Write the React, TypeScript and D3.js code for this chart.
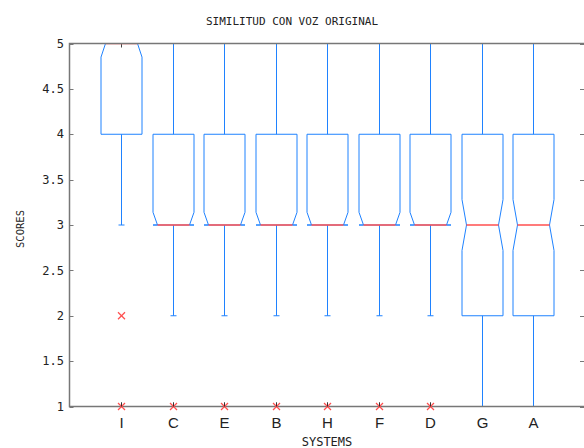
import React from 'react';
import * as d3 from 'd3';

const W = 584;
const H = 448;

const categories = ['I', 'C', 'E', 'B', 'H', 'F', 'D', 'G', 'A'];
const q1 = [4, 3, 3, 3, 3, 3, 3, 2, 2];
const medians = [5, 3, 3, 3, 3, 3, 3, 3, 3];
const q3 = [5, 4, 4, 4, 4, 4, 4, 4, 4];
const whiskLo = [3, 2, 2, 2, 2, 2, 2, 1, 1];
const whiskHi = [5, 5, 5, 5, 5, 5, 5, 5, 5];
const notchHalf = [0.15, 0.14, 0.14, 0.14, 0.14, 0.14, 0.14, 0.28, 0.28];
const outliers = [[2, 1], [1], [1], [1], [1], [1], [1], [], []];
const yTicks = [1, 1.5, 2, 2.5, 3, 3.5, 4, 4.5, 5];

const margin = { left: 69.5, top: 43.5, right: 585, bottom: 406.5 };

const BLUE = '#1f82ff';
const RED = '#ff4f4f';
const AXIS = '#777777';

export default function App() {
  const x = d3.scaleLinear().domain([0, 10]).range([margin.left, margin.right]);
  const y = d3.scaleLinear().domain([1, 5]).range([margin.bottom, margin.top]);
  const halfW = 20.5;
  const inset = 4.5;
  const cap = 3;

  const boxes = categories.map((c, i) => {
    const cx = Math.round(x(i + 1)) + 0.5;
    const L = cx - halfW;
    const R = cx + halfW;
    const nLo = Math.max(medians[i] - notchHalf[i], q1[i]);
    const nHi = Math.min(medians[i] + notchHalf[i], q3[i]);
    const pts: [number, number][] = [
      [L, y(q1[i])], [L, y(nLo)], [L + inset, y(medians[i])], [L, y(nHi)], [L, y(q3[i])],
      [R, y(q3[i])], [R, y(nHi)], [R - inset, y(medians[i])], [R, y(nLo)], [R, y(q1[i])],
    ];
    const path = d3.line()(pts) + 'Z';
    return (
      <g key={c}>
        {whiskHi[i] > q3[i] && (
          <line x1={cx} x2={cx} y1={y(q3[i])} y2={y(whiskHi[i])} stroke={BLUE} />
        )}
        {whiskLo[i] < q1[i] && (
          <line x1={cx} x2={cx} y1={y(q1[i])} y2={y(whiskLo[i])} stroke={BLUE} />
        )}
        <line x1={cx - cap} x2={cx + cap} y1={y(whiskLo[i])} y2={y(whiskLo[i])} stroke={BLUE} />
        <path d={path} fill="none" stroke={BLUE} />
        <line x1={L + inset} x2={R - inset} y1={y(medians[i])} y2={y(medians[i])} stroke={RED} strokeWidth={1.5} />
      </g>
    );
  });

  const marks = categories.map((c, i) => {
    const cx = Math.round(x(i + 1)) + 0.5;
    return outliers[i].map((v, j) => (
      <g key={c + j} stroke={RED} strokeWidth={1.2}>
        <line x1={cx - 3.5} x2={cx + 3.5} y1={y(v) - 3.5} y2={y(v) + 3.5} />
        <line x1={cx - 3.5} x2={cx + 3.5} y1={y(v) + 3.5} y2={y(v) - 3.5} />
        {v === 1 && <line x1={cx} x2={cx} y1={y(v)} y2={y(v) - 4} stroke="#333" strokeWidth={1} />}
      </g>
    ));
  });

  const mono = '"DejaVu Sans Mono", monospace';

  return (
    <svg width={W} height={H} style={{ position: 'absolute', left: 0, top: 0, background: '#fff' }}>
      <defs>
        <clipPath id="plot">
          <rect x={margin.left} y={margin.top} width={margin.right - margin.left} height={margin.bottom - margin.top} />
        </clipPath>
      </defs>
      <text x={292} y={25} textAnchor="middle" fontFamily={mono} fontSize={11} fill="#222">
        SIMILITUD CON VOZ ORIGINAL
      </text>
      {/* inward ticks */}
      {yTicks.map((t) => (
        <g key={t}>
          <line x1={margin.left} x2={margin.left + 4} y1={Math.round(y(t)) + 0.5} y2={Math.round(y(t)) + 0.5} stroke={AXIS} />
          <line x1={margin.right - 5} x2={margin.right} y1={Math.round(y(t)) + 0.5} y2={Math.round(y(t)) + 0.5} stroke={AXIS} />
          <text x={64} y={y(t)} dy="0.35em" textAnchor="end" fontFamily={mono} fontSize={12} fill="#222">
            {t}
          </text>
        </g>
      ))}
      {categories.map((c, i) => {
        const cx = Math.round(x(i + 1)) + 0.5;
        return (
          <g key={c}>
            <line x1={cx} x2={cx} y1={margin.top} y2={margin.top + 4} stroke="#444" />
            <line x1={cx} x2={cx} y1={margin.bottom} y2={margin.bottom - 4} stroke="#444" />
            <text x={cx} y={428} textAnchor="middle" fontFamily='"Liberation Sans", Arial, sans-serif' fontSize={15} fill="#222">
              {c}
            </text>
          </g>
        );
      })}
      <g clipPath="url(#plot)">{boxes}</g>
      {/* frame */}
      <rect x={margin.left} y={margin.top} width={margin.right - margin.left} height={margin.bottom - margin.top}
        fill="none" stroke={AXIS} strokeWidth={1.5} />
      {marks}
      <text x={327} y={446} textAnchor="middle" fontFamily={mono} fontSize={12} fill="#222">
        SYSTEMS
      </text>
      <text transform={`translate(24,229) rotate(-90)`} textAnchor="middle" fontFamily={mono} fontSize={10.5} fill="#222">
        SCORES
      </text>
    </svg>
  );
}
